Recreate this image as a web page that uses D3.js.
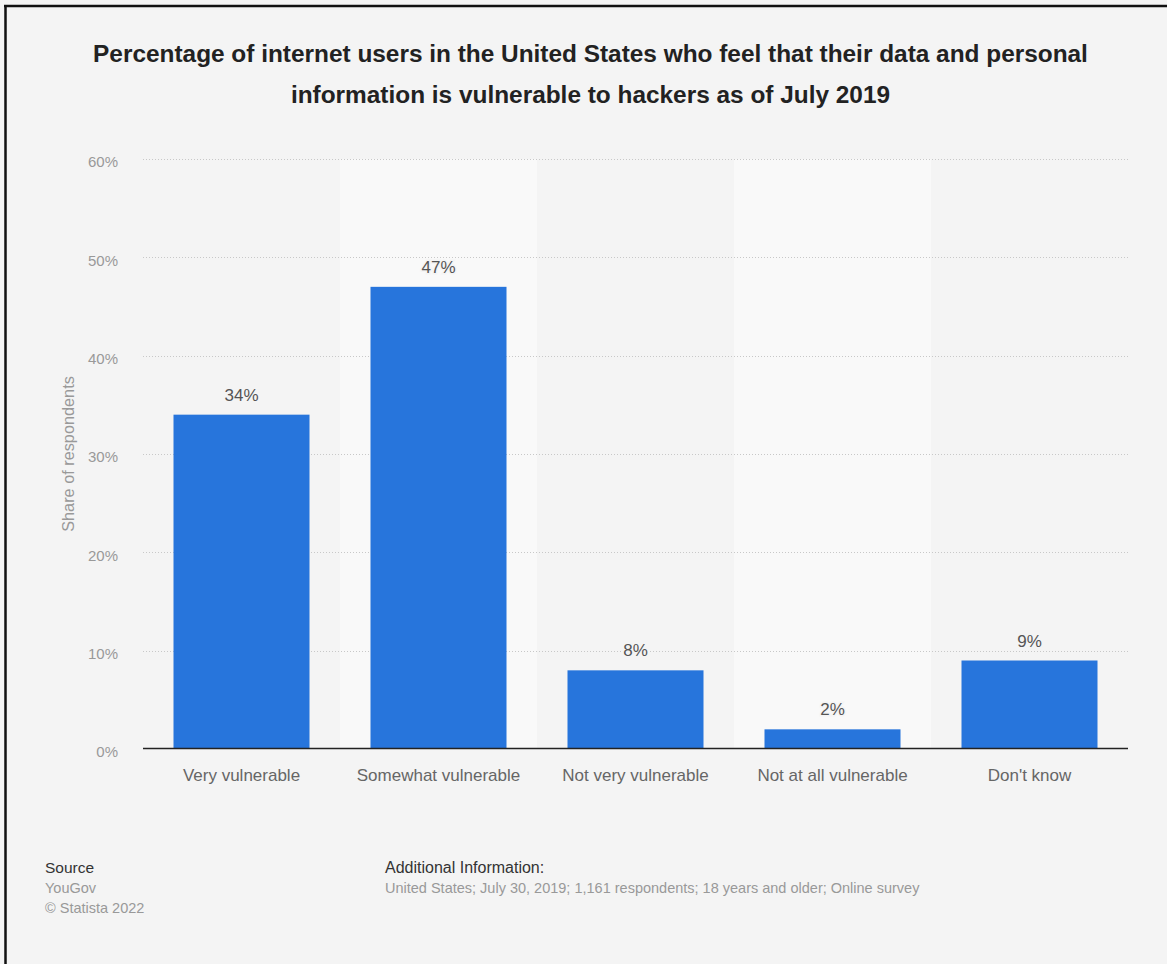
<!DOCTYPE html>
<html>
<head>
<meta charset="utf-8">
<script src="https://cdn.jsdelivr.net/npm/d3@7"></script>
<style>
  html, body { margin: 0; padding: 0; background: #f4f4f4; }
  svg { display: block; }
</style>
</head>
<body>
<script>
// Survey answers and shares (percent)
const categories = ["Very vulnerable", "Somewhat vulnerable", "Not very vulnerable", "Not at all vulnerable", "Don't know"];
const shares = [34, 47, 8, 2, 9];
const yTicks = [0, 10, 20, 30, 40, 50, 60];
const titleLines = [
  "Percentage of internet users in the United States who feel that their data and personal",
  "information is vulnerable to hackers as of July 2019"
];
const sourceLines = ["YouGov", "\u00a9 Statista 2022"];
const infoLine = "United States; July 30, 2019; 1,161 respondents; 18 years and older; Online survey";

const W = 1167, H = 964;
const font = "'Liberation Sans', Arial, Helvetica, sans-serif";
const plot = { left: 143, right: 1128, top: 159, bottom: 749 };

const svg = d3.select("body").append("svg")
  .attr("width", W).attr("height", H)
  .style("font-family", font);

svg.append("rect").attr("width", W).attr("height", H).attr("fill", "#f4f4f4");

// frame: top and left edges only
svg.append("line").attr("x1", 4).attr("x2", W).attr("y1", 6).attr("y2", 6)
  .attr("stroke", "#111").attr("stroke-width", 2.5);
svg.append("line").attr("x1", 5.5).attr("x2", 5.5).attr("y1", 5).attr("y2", H)
  .attr("stroke", "#111").attr("stroke-width", 2.5);

// title
svg.append("g").selectAll("text").data(titleLines).join("text")
  .attr("x", 590.5).attr("y", (d, i) => 61.5 + i * 41)
  .attr("text-anchor", "middle")
  .attr("font-size", 24.4).attr("font-weight", "bold").attr("fill", "#222")
  .text(d => d);

const x = d3.scaleBand().domain(categories).range([plot.left, plot.right]).paddingInner(0).paddingOuter(0);
const y = d3.scaleLinear().domain([0, 60]).range([plot.bottom, plot.top]);

// alternating column bands
svg.append("g").selectAll("rect")
  .data(categories.filter((d, i) => i % 2 === 1)).join("rect")
  .attr("x", d => x(d)).attr("width", x.bandwidth())
  .attr("y", y(60)).attr("height", y(0) - y(60))
  .attr("fill", "#f9f9f9");

// gridlines
svg.append("g").selectAll("line").data(yTicks.filter(t => t > 0)).join("line")
  .attr("x1", plot.left).attr("x2", plot.right)
  .attr("y1", d => Math.round(y(d)) + 0.5).attr("y2", d => Math.round(y(d)) + 0.5)
  .attr("stroke", "#c8c8c8").attr("stroke-width", 1).attr("stroke-dasharray", "1,2");

// y axis labels
const yAxis = d3.axisLeft(y).tickValues(yTicks).tickFormat(d => d + "%").tickSize(0).tickPadding(25);
const yg = svg.append("g").attr("transform", `translate(${plot.left},0)`).call(yAxis);
yg.select(".domain").remove();
yg.selectAll("text").attr("font-size", 15).attr("fill", "#999").attr("font-family", font)
  .attr("dy", "0.52em");

// axis title
svg.append("text")
  .attr("transform", `translate(74,454) rotate(-90)`)
  .attr("text-anchor", "middle").attr("font-size", 16.3).attr("fill", "#999")
  .text("Share of respondents");

// bars
const barW = 136;
svg.append("g").selectAll("rect").data(shares).join("rect")
  .attr("x", (d, i) => x(categories[i]) + x.bandwidth() / 2 - barW / 2)
  .attr("width", barW)
  .attr("y", d => y(d)).attr("height", d => y(0) - y(d))
  .attr("fill", "#2775dc");

// value labels
svg.append("g").selectAll("text").data(shares).join("text")
  .attr("x", (d, i) => x(categories[i]) + x.bandwidth() / 2)
  .attr("y", d => y(d) - 14)
  .attr("text-anchor", "middle").attr("font-size", 17).attr("fill", "#555")
  .style("paint-order", "stroke").attr("stroke", "#f4f4f4").attr("stroke-width", 3)
  .text(d => d + "%");

// baseline
svg.append("line").attr("x1", plot.left).attr("x2", plot.right)
  .attr("y1", plot.bottom - 0.5).attr("y2", plot.bottom - 0.5)
  .attr("stroke", "#222").attr("stroke-width", 1.3);

// category labels
const xAxis = d3.axisBottom(x).tickSize(0).tickPadding(20);
const xg = svg.append("g").attr("transform", `translate(0,${plot.bottom})`).call(xAxis);
xg.select(".domain").remove();
xg.selectAll("text").attr("font-size", 17).attr("fill", "#666").attr("font-family", font);

// footer
svg.append("text").attr("x", 45).attr("y", 873).attr("font-size", 15.5).attr("fill", "#333").text("Source");
svg.append("g").selectAll("text").data(sourceLines).join("text")
  .attr("x", 45).attr("y", (d, i) => 893 + i * 20)
  .attr("font-size", 14.5).attr("fill", "#999").text(d => d);
svg.append("text").attr("x", 385).attr("y", 873).attr("font-size", 16).attr("fill", "#333").text("Additional Information:");
svg.append("text").attr("x", 385).attr("y", 893).attr("font-size", 14.5).attr("fill", "#999").text(infoLine);
</script>
</body>
</html>
